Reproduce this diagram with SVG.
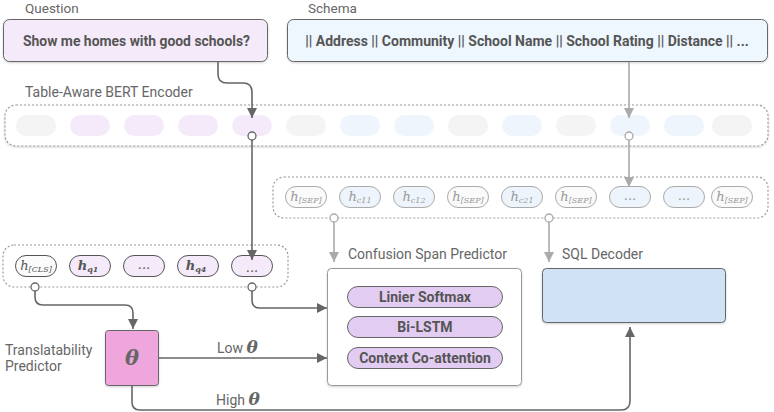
<svg xmlns="http://www.w3.org/2000/svg" width="774" height="412" viewBox="0 0 774 412">
<defs>
<marker id="ad" markerUnits="userSpaceOnUse" markerWidth="11" markerHeight="11" refX="10" refY="5" orient="auto"><path d="M0,0 L10,5 L0,10 z" fill="#666"/></marker>
<marker id="ag" markerUnits="userSpaceOnUse" markerWidth="11" markerHeight="11" refX="10" refY="5" orient="auto"><path d="M0,0 L10,5 L0,10 z" fill="#aaa"/></marker>
<filter id="sh" x="-5%" y="-10%" width="110%" height="130%"><feDropShadow dx="0" dy="1" stdDeviation="1" flood-color="#000" flood-opacity="0.18"/></filter>
</defs>
<style>
.lbl{font-family:Roboto,"Liberation Sans",sans-serif;font-size:14px;fill:#666}
.top{font-size:13.5px}
.bt{font-family:Roboto,"Liberation Sans",sans-serif;font-size:14px;font-weight:bold;fill:#555}
.it{font-family:Roboto,"Liberation Sans",sans-serif;font-size:14px;font-weight:bold;fill:#555}
.dash{fill:#fff;stroke:#999;stroke-width:1.2;stroke-dasharray:2 2}
.tg{fill:#f4f4f4}
.tp{fill:#f5eafa}
.tb{fill:#eef5fd}
.sp{fill:#fafafa;stroke:#aaa;stroke-width:1}
.sc{fill:#eef4fb;stroke:#aaa;stroke-width:1}
.qp{fill:#f5eafa;stroke:#555;stroke-width:1}
.qw{fill:#fbfbfb;stroke:#555;stroke-width:1}
.mg{font-family:"DejaVu Serif","Liberation Serif",serif;font-style:italic;font-size:13px;fill:#999}
.md{font-family:"DejaVu Serif","Liberation Serif",serif;font-style:italic;font-size:13px;fill:#555}
.sub{font-size:8px}
.cd{fill:none;stroke:#666;stroke-width:1.6}
.cg{fill:none;stroke:#aaa;stroke-width:1.6}
.cir{fill:#fff;stroke-width:1.3}
.th{font-family:"DejaVu Serif","Liberation Serif",serif;font-style:italic;font-weight:bold;fill:#666}
</style>

<g id="question">
<text class="lbl top" x="25" y="13">Question</text>
<rect x="3.5" y="19.5" width="264" height="42" rx="6" fill="#f5eafa" stroke="#666" stroke-width="1" filter="url(#sh)"/>
<text class="bt" x="23" y="46" textLength="227" lengthAdjust="spacingAndGlyphs">Show me homes with good schools?</text>
</g>

<g id="schema">
<text class="lbl top" x="308" y="13">Schema</text>
<rect x="287.5" y="19.5" width="480" height="42" rx="6" fill="#eef6fe" stroke="#666" stroke-width="1" filter="url(#sh)"/>
<text class="bt" x="527" y="46" text-anchor="middle">|| Address || Community || School Name || School Rating || Distance || ...</text>
</g>

<g id="encoder">
<text class="lbl" x="25" y="97">Table-Aware BERT Encoder</text>
<rect class="dash" x="5" y="105" width="763" height="41" rx="11" filter="url(#sh)"/>
<rect class="tg" x="16" y="115" width="40" height="21" rx="10.5"/>
<rect class="tp" x="70" y="115" width="40" height="21" rx="10.5"/>
<rect class="tp" x="124" y="115" width="40" height="21" rx="10.5"/>
<rect class="tp" x="178" y="115" width="40" height="21" rx="10.5"/>
<rect class="tp" x="232" y="115" width="40" height="21" rx="10.5"/>
<rect class="tg" x="286" y="115" width="40" height="21" rx="10.5"/>
<rect class="tb" x="340" y="115" width="40" height="21" rx="10.5"/>
<rect class="tb" x="394" y="115" width="40" height="21" rx="10.5"/>
<rect class="tg" x="448" y="115" width="40" height="21" rx="10.5"/>
<rect class="tb" x="502" y="115" width="40" height="21" rx="10.5"/>
<rect class="tg" x="556" y="115" width="40" height="21" rx="10.5"/>
<rect class="tb" x="610" y="115" width="40" height="21" rx="10.5"/>
<rect class="tb" x="664" y="115" width="40" height="21" rx="10.5"/>
<rect class="tg" x="712" y="115" width="40" height="21" rx="10.5"/>
</g>

<g id="schema-tokens">
<rect class="dash" x="273" y="177" width="495" height="41" rx="11"/>
<rect class="sp" x="285.5" y="186.5" width="41" height="21" rx="10.5"/>
<text class="mg" x="306" y="201" text-anchor="middle">h<tspan class="sub" dy="2">[SEP]</tspan></text>
<rect class="sc" x="339.5" y="186.5" width="41" height="21" rx="10.5"/>
<text class="mg" x="360" y="201" text-anchor="middle">h<tspan class="sub" dy="2">c11</tspan></text>
<rect class="sc" x="393.5" y="186.5" width="41" height="21" rx="10.5"/>
<text class="mg" x="414" y="201" text-anchor="middle">h<tspan class="sub" dy="2">c12</tspan></text>
<rect class="sp" x="447.5" y="186.5" width="41" height="21" rx="10.5"/>
<text class="mg" x="468" y="201" text-anchor="middle">h<tspan class="sub" dy="2">[SEP]</tspan></text>
<rect class="sc" x="501.5" y="186.5" width="41" height="21" rx="10.5"/>
<text class="mg" x="522" y="201" text-anchor="middle">h<tspan class="sub" dy="2">c21</tspan></text>
<rect class="sp" x="555.5" y="186.5" width="41" height="21" rx="10.5"/>
<text class="mg" x="576" y="201" text-anchor="middle">h<tspan class="sub" dy="2">[SEP]</tspan></text>
<rect class="sc" x="609.5" y="186.5" width="41" height="21" rx="10.5"/>
<text class="mg" x="630" y="200" text-anchor="middle" font-size="10" font-style="normal">...</text>
<rect class="sc" x="663.5" y="186.5" width="41" height="21" rx="10.5"/>
<text class="mg" x="684" y="200" text-anchor="middle" font-size="10" font-style="normal">...</text>
<rect class="sp" x="711.5" y="186.5" width="41" height="21" rx="10.5"/>
<text class="mg" x="732" y="201" text-anchor="middle">h<tspan class="sub" dy="2">[SEP]</tspan></text>
</g>

<g id="question-tokens">
<rect class="dash" x="3" y="245" width="285" height="42" rx="11"/>
<rect class="qw" x="15.5" y="255.5" width="41" height="21" rx="10.5"/>
<text class="md" x="36" y="270" text-anchor="middle">h<tspan class="sub" dy="2">[CLS]</tspan></text>
<rect class="qp" x="69.5" y="255.5" width="41" height="21" rx="10.5"/>
<text class="md" x="88" y="270" text-anchor="middle" font-weight="bold">h<tspan class="sub" dy="2">q1</tspan></text>
<rect class="qp" x="123.5" y="255.5" width="41" height="21" rx="10.5"/>
<text class="md" x="144" y="269" text-anchor="middle" font-size="10" font-style="normal">...</text>
<rect class="qp" x="177.5" y="255.5" width="41" height="21" rx="10.5"/>
<text class="md" x="196" y="270" text-anchor="middle" font-weight="bold">h<tspan class="sub" dy="2">q4</tspan></text>
<rect class="qp" x="231.5" y="255.5" width="41" height="21" rx="10.5"/>
<text class="md" x="252" y="272" text-anchor="middle" font-size="10" font-style="normal">...</text>
</g>

<g id="translatability">
<text class="lbl" x="5" y="355">Translatability</text>
<text class="lbl" x="5" y="371">Predictor</text>
<rect x="105.5" y="330.5" width="53" height="55" rx="3" fill="#eea6dc" stroke="#666" stroke-width="1" filter="url(#sh)"/>
<text class="th" x="132" y="365" text-anchor="middle" font-size="21">θ</text>
</g>

<g id="confusion">
<text class="lbl" x="348" y="259">Confusion Span Predictor</text>
<rect x="327.5" y="268.5" width="194" height="117" rx="4" fill="#fff" stroke="#999" stroke-width="1" filter="url(#sh)"/>
<rect x="347.5" y="286.5" width="155" height="21" rx="10.5" fill="#e2ccf2" stroke="#666" stroke-width="1"/>
<text class="it" x="425" y="302" text-anchor="middle">Linier Softmax</text>
<rect x="347.5" y="316.5" width="155" height="21" rx="10.5" fill="#e2ccf2" stroke="#666" stroke-width="1"/>
<text class="it" x="425" y="332" text-anchor="middle">Bi-LSTM</text>
<rect x="347.5" y="347.5" width="155" height="21" rx="10.5" fill="#e2ccf2" stroke="#666" stroke-width="1"/>
<text class="it" x="425" y="363" text-anchor="middle">Context Co-attention</text>
</g>

<g id="sql-decoder">
<text class="lbl" x="562" y="259">SQL Decoder</text>
<rect x="542.5" y="268.5" width="183" height="54" rx="4" fill="#cfe2f6" stroke="#666" stroke-width="1" filter="url(#sh)"/>
</g>

<g id="connectors">
<path class="cd" d="M218,62 V74 Q218,83 227,83 H243 Q252,83 252,92 V118" marker-end="url(#ad)"/>
<path class="cd" d="M252,140 V260" marker-end="url(#ad)"/>
<circle class="cir" cx="252" cy="136" r="4" stroke="#666"/>
<path class="cg" d="M629,62 V118" marker-end="url(#ag)"/>
<path class="cg" d="M629,140 V187" marker-end="url(#ag)"/>
<circle class="cir" cx="629" cy="136" r="4" stroke="#aaa"/>
<path class="cg" d="M334,222 V262" marker-end="url(#ag)"/>
<circle class="cir" cx="334" cy="218" r="4" stroke="#aaa"/>
<path class="cg" d="M549,222 V262" marker-end="url(#ag)"/>
<circle class="cir" cx="549" cy="218" r="4" stroke="#aaa"/>
<path class="cd" d="M35,291 V297 Q35,305 43,305 H125 Q133,305 133,313 V329" marker-end="url(#ad)"/>
<circle class="cir" cx="35" cy="287" r="4" stroke="#666"/>
<path class="cd" d="M252,291 V300 Q252,308 260,308 H327" marker-end="url(#ad)"/>
<circle class="cir" cx="252" cy="287" r="4" stroke="#666"/>
<path class="cd" d="M159,358 H327" marker-end="url(#ad)"/>
<path class="cd" d="M132,386 V402 Q132,410 140,410 H621 Q630,410 630,401 V327" marker-end="url(#ad)"/>
<text class="lbl" x="217" y="353">Low <tspan class="th" font-size="17">θ</tspan></text>
<text class="lbl" x="216" y="405">High <tspan class="th" font-size="17">θ</tspan></text>
</g>
</svg>
